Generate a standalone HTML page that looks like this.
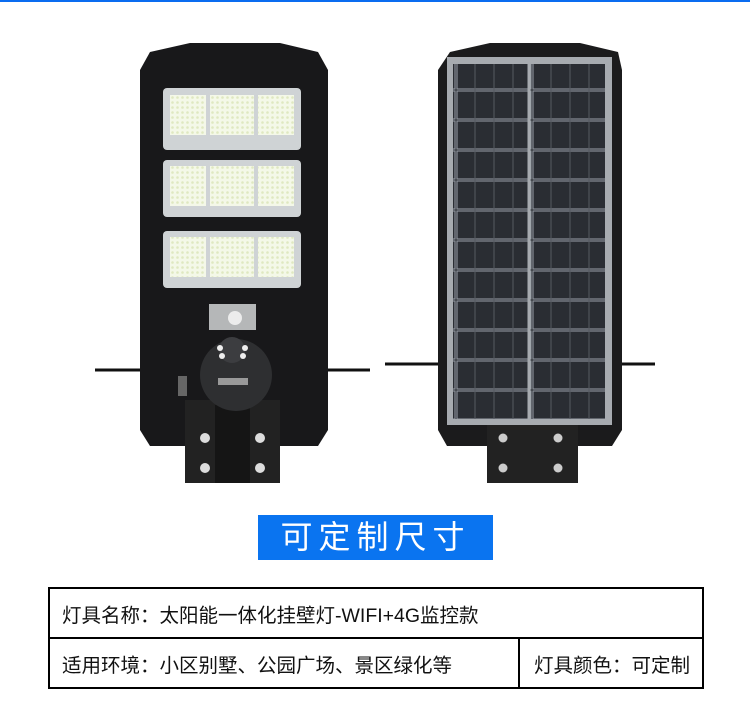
<!DOCTYPE html>
<html><head><meta charset="utf-8"><style>
body{margin:0;width:750px;height:708px;background:#fff;position:relative;overflow:hidden;font-family:"Liberation Sans","Noto Sans CJK SC",sans-serif}
.topbar{position:absolute;left:0;top:0;width:750px;height:2px;background:#0a6cf0}
.btn{position:absolute;left:258px;top:515px;width:235px;height:45px;background:#0a74f0;color:#fff;font-size:32px;letter-spacing:6px;text-align:center;line-height:45px}
table{position:absolute;left:48px;top:587px;width:656px;height:99px;border-collapse:collapse}
td{border:2px solid #000;font-size:19.5px;color:#111;padding:0 0 0 12px;height:48px;white-space:nowrap}
</style></head><body>
<div class="topbar"></div>
<svg width="750" height="500" style="position:absolute;left:0;top:0">
<defs>
<pattern id="led" width="5" height="5" patternUnits="userSpaceOnUse"><rect width="5" height="5" fill="#f4f8e8"/><circle cx="2.5" cy="2.5" r="1.3" fill="#dfe8c0"/></pattern>
<pattern id="sol" width="76" height="30" patternUnits="userSpaceOnUse"><rect width="76" height="30" fill="#2a2d33"/><rect x="1" y="1" width="74" height="28" fill="none" stroke="#9aa0a8" stroke-width="1"/><line x1="19" y1="0" x2="19" y2="30" stroke="#555a62"/><line x1="38" y1="0" x2="38" y2="30" stroke="#555a62"/><line x1="57" y1="0" x2="57" y2="30" stroke="#555a62"/></pattern>
</defs>
<line x1="95" y1="370" x2="370" y2="370" stroke="#111" stroke-width="3"/>
<path d="M150 52 L190 43 L280 43 L318 52 L328 70 L328 430 L318 446 L150 446 L140 430 L140 70 Z" fill="#18181a"/>
<rect x="185" y="400" width="95" height="83" fill="#222"/>
<rect x="215" y="405" width="35" height="78" fill="#151515"/>
<g fill="#ddd"><circle cx="205" cy="438" r="5"/><circle cx="260" cy="438" r="5"/><circle cx="205" cy="468" r="5"/><circle cx="260" cy="468" r="5"/></g>
<g>
<rect x="163" y="88" width="138" height="62" rx="4" fill="#cfd3d5"/>
<rect x="170" y="95" width="36" height="40" fill="url(#led)"/><rect x="210" y="95" width="44" height="40" fill="url(#led)"/><rect x="258" y="95" width="36" height="40" fill="url(#led)"/>
<rect x="163" y="160" width="138" height="57" rx="4" fill="#cfd3d5"/>
<rect x="170" y="166" width="36" height="40" fill="url(#led)"/><rect x="210" y="166" width="44" height="40" fill="url(#led)"/><rect x="258" y="166" width="36" height="40" fill="url(#led)"/>
<rect x="163" y="231" width="138" height="57" rx="4" fill="#cfd3d5"/>
<rect x="170" y="237" width="36" height="40" fill="url(#led)"/><rect x="210" y="237" width="44" height="40" fill="url(#led)"/><rect x="258" y="237" width="36" height="40" fill="url(#led)"/>
</g>
<rect x="209" y="304" width="47" height="26" fill="#b5b7b8"/>
<circle cx="235" cy="318" r="7" fill="#ececec"/>
<circle cx="236" cy="375" r="36" fill="#2e2f31"/>
<circle cx="232" cy="350" r="13" fill="#3c3d40"/>
<g fill="#eee"><circle cx="220" cy="348" r="3"/><circle cx="245" cy="348" r="3"/><circle cx="222" cy="356" r="3"/><circle cx="243" cy="356" r="3"/></g>
<rect x="218" y="378" width="30" height="7" fill="#999"/>
<rect x="178" y="376" width="9" height="20" fill="#666"/>
<line x1="385" y1="364" x2="655" y2="364" stroke="#111" stroke-width="3"/>
<path d="M450 52 L490 43 L580 43 L618 52 L622 70 L622 430 L612 446 L447 446 L438 430 L438 70 Z" fill="#1b1b1c"/>
<rect x="487" y="425" width="91" height="58" fill="#222"/>
<g fill="#ccc"><circle cx="503" cy="438" r="4.5"/><circle cx="558" cy="438" r="4.5"/><circle cx="503" cy="468" r="4.5"/><circle cx="558" cy="468" r="4.5"/></g>
<rect x="447" y="57" width="165" height="368" fill="#a7abb0"/>
<rect x="453" y="64" width="152" height="355" fill="url(#sol)"/>
<line x1="529" y1="64" x2="529" y2="419" stroke="#a7abb0" stroke-width="3"/>
</svg>
<div class="btn">可定制尺寸</div>
<table>
<tr><td colspan="2">灯具名称：太阳能一体化挂壁灯-WIFI+4G监控款</td></tr>
<tr><td style="width:456px">适用环境：小区别墅、公园广场、景区绿化等</td><td style="padding-left:14px">灯具颜色：可定制</td></tr>
</table>
</body></html>
